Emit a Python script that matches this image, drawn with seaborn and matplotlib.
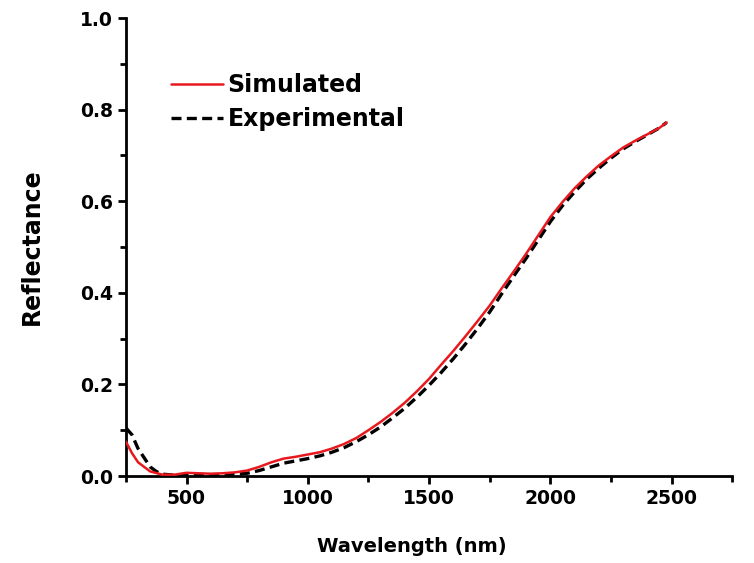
import numpy as np
import pandas as pd
import matplotlib
matplotlib.use("Agg")
import matplotlib.pyplot as plt
import seaborn as sns
from matplotlib.ticker import MultipleLocator

wl_sim = [250, 275, 300, 350, 400, 450, 500, 550, 600, 650, 700, 750, 800, 850, 900,
          950, 1000, 1050, 1100, 1150, 1200, 1250, 1300, 1350, 1400, 1450, 1500, 1550,
          1600, 1650, 1700, 1750, 1800, 1850, 1900, 1950, 2000, 2050, 2100, 2150, 2200,
          2250, 2300, 2350, 2400, 2450, 2480]
refl_sim = [0.075, 0.05, 0.03, 0.01, 0.003, 0.003, 0.007, 0.006, 0.005, 0.006, 0.008,
            0.012, 0.02, 0.03, 0.038, 0.042, 0.047, 0.052, 0.06, 0.07, 0.083, 0.1, 0.118,
            0.138, 0.16, 0.185, 0.212, 0.243, 0.273, 0.305, 0.338, 0.372, 0.41, 0.447,
            0.485, 0.525, 0.565, 0.598, 0.628, 0.654, 0.678, 0.698, 0.717, 0.732, 0.746,
            0.76, 0.772]

wl_exp = [250, 275, 300, 325, 350, 375, 400, 450, 500, 600, 700, 750, 800, 850, 900,
          950, 1000, 1050, 1100, 1150, 1200, 1250, 1300, 1350, 1400, 1450, 1500, 1550,
          1600, 1650, 1700, 1750, 1800, 1850, 1900, 1950, 2000, 2050, 2100, 2150, 2200,
          2250, 2300, 2350, 2400, 2450, 2480]
refl_exp = [0.105, 0.09, 0.06, 0.04, 0.02, 0.01, 0.004, 0.002, 0.003, 0.003, 0.004,
            0.006, 0.012, 0.02, 0.028, 0.033, 0.038, 0.044, 0.052, 0.062, 0.075, 0.09,
            0.107, 0.127, 0.148, 0.172, 0.198, 0.226, 0.256, 0.288, 0.322, 0.358, 0.398,
            0.437, 0.475, 0.515, 0.555, 0.59, 0.62, 0.648, 0.672, 0.694, 0.714, 0.73,
            0.745, 0.76, 0.772]

xticks = [500, 1000, 1500, 2000, 2500]
yticks = [0.0, 0.2, 0.4, 0.6, 0.8, 1.0]

sns.set_style("white")
plt.rcParams['font.family'] = ['DejaVu Sans']
plt.rcParams['text.color'] = 'black'
plt.rcParams['axes.labelcolor'] = 'black'
plt.rcParams['xtick.color'] = 'black'
plt.rcParams['ytick.color'] = 'black'

fig = plt.figure(figsize=(7.54, 5.63), dpi=100)
ax = fig.add_axes([0.167, 0.1545, 0.804, 0.8135])

df_sim = pd.DataFrame({"wl": wl_sim, "r": refl_sim})
df_exp = pd.DataFrame({"wl": wl_exp, "r": refl_exp})

sns.lineplot(data=df_exp, x="wl", y="r", ax=ax, color="black", lw=2.4,
             linestyle=(0, (3, 1.6)), label="Experimental", zorder=2)
sns.lineplot(data=df_sim, x="wl", y="r", ax=ax, color="#e8191e", lw=1.8,
             label="Simulated", zorder=3)

ax.set_xlim(250, 2750)
ax.set_ylim(0, 1.0)
ax.set_xticks(xticks)
ax.set_yticks(yticks)
ax.set_yticklabels([f"{v:.1f}" for v in yticks])
ax.xaxis.set_minor_locator(MultipleLocator(250))
ax.yaxis.set_minor_locator(MultipleLocator(0.1))

for s in ["top", "right"]:
    ax.spines[s].set_visible(False)
for s in ["left", "bottom"]:
    ax.spines[s].set_linewidth(2)
    ax.spines[s].set_color("black")

ax.tick_params(axis="both", which="major", direction="out", length=6, width=2,
               labelsize=13.5, color="black", labelcolor="black", bottom=True, left=True)
ax.tick_params(axis="both", which="minor", direction="out", length=4, width=2,
               color="black", bottom=True, left=True)
for lab in ax.get_xticklabels() + ax.get_yticklabels():
    lab.set_fontweight("bold")

ax.set_xlabel("Wavelength (nm)", fontsize=14, fontweight="bold", color="black")
ax.xaxis.set_label_coords(0.472, -0.134)
ax.set_ylabel("Reflectance", fontsize=17, fontweight="bold", labelpad=26,
              color="black")

handles, labels = ax.get_legend_handles_labels()
order = [labels.index("Simulated"), labels.index("Experimental")]
leg = ax.legend([handles[i] for i in order], [labels[i] for i in order],
                frameon=False, loc="upper left", bbox_to_anchor=(0.074, 0.880),
                borderaxespad=0, borderpad=0,
                handlelength=2.2, handletextpad=0.2,
                labelspacing=0.42, prop={"weight": "bold", "size": 17})
for t in leg.get_texts():
    t.set_color("black")

fig.savefig("out.png", dpi=100)
